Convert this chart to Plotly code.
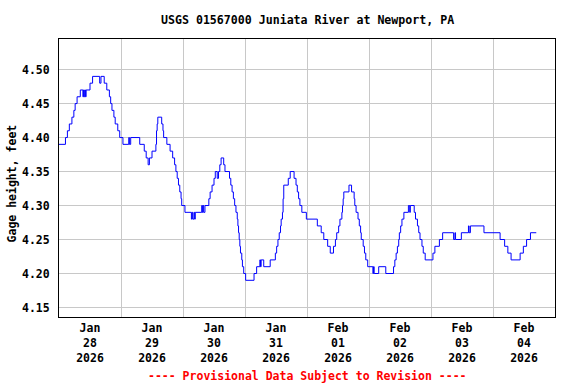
import pandas as pd
import plotly.graph_objects as go

# Hours since 2026-01-28 00:00 at which the gage reading changed
hours = [
    0.0, 2.5, 3.25, 4.0, 5.0, 5.75, 6.25, 7.0, 8.25,
    9.25, 9.5, 9.75, 10.0, 10.25, 10.5,
    12.0, 13.0, 15.75, 16.25, 17.5, 18.5, 19.5, 20.0, 20.5, 21.25, 21.75, 22.75, 23.5, 24.75,
    27.0, 27.25, 27.75, 31.25, 33.0, 33.75, 34.5, 35.0, 36.0,
    37.5, 37.75, 38.0, 38.25, 39.75, 40.25, 40.5, 41.75, 43.0, 44.0, 44.75, 45.25, 45.75,
    46.25, 46.75, 47.25, 47.5, 48.75,
    51.25, 51.5, 51.75, 52.25, 52.5, 52.75,
    55.25, 55.5, 55.75, 56.0, 56.5,
    58.0, 58.5, 59.25, 60.0, 60.5, 61.25, 61.75, 62.25, 62.75, 63.75, 64.25, 66.0, 66.5,
    67.0, 67.5, 68.0, 68.5, 69.0, 69.25, 69.5, 69.75, 70.0, 70.25, 70.75, 71.0, 71.5, 72.25,
    75.5, 76.5, 77.75, 78.0, 78.25, 79.25, 81.75, 83.75, 84.25, 84.75, 85.25, 85.75, 86.0,
    86.5, 86.75, 87.0,
    88.75, 89.5, 91.0, 91.75, 92.25, 92.75, 93.25, 94.0, 95.75,
    100.0, 101.5, 102.5, 104.0, 105.0, 106.25, 107.0, 107.5, 108.25, 108.75, 109.5, 109.75,
    110.0, 110.25, 112.25, 113.25, 114.25, 114.5, 115.0, 115.75, 116.25, 116.75, 117.0,
    117.75, 118.25, 118.75, 119.5,
    121.5, 121.75, 122.0, 123.75, 126.5, 129.5, 130.0, 130.5, 131.0, 131.5, 131.75, 132.25,
    132.75, 133.5, 135.25, 135.75, 136.0, 137.5, 138.0, 138.75, 139.25, 139.75, 140.5, 141.0,
    141.75,
    144.75, 145.5, 147.25, 148.5, 152.75, 153.25, 153.5, 155.75, 158.5, 158.75, 159.25,
    164.5, 170.75, 172.5, 173.75, 175.0, 178.5, 179.75, 181.0, 182.5, 184.75,
]

# Gage height (feet) from each of those times on
gage_ft = [
    4.39, 4.40, 4.41, 4.42, 4.43, 4.44, 4.45, 4.46, 4.47,
    4.46, 4.47, 4.46, 4.47, 4.46, 4.47,
    4.48, 4.49, 4.48, 4.49, 4.48, 4.47, 4.46, 4.45, 4.44, 4.43, 4.42, 4.41, 4.40, 4.39,
    4.40, 4.39, 4.40, 4.39, 4.38, 4.37, 4.36, 4.37, 4.38,
    4.39, 4.41, 4.42, 4.43, 4.42, 4.41, 4.40, 4.39, 4.38, 4.37, 4.36, 4.35, 4.34,
    4.33, 4.32, 4.31, 4.30, 4.29,
    4.28, 4.29, 4.28, 4.29, 4.28, 4.29,
    4.30, 4.29, 4.30, 4.29, 4.30,
    4.31, 4.32, 4.33, 4.34, 4.35, 4.34, 4.35, 4.36, 4.37, 4.36, 4.35, 4.34, 4.33,
    4.32, 4.31, 4.30, 4.29, 4.28, 4.27, 4.26, 4.25, 4.24, 4.23, 4.22, 4.21, 4.20, 4.19,
    4.20, 4.21, 4.22, 4.21, 4.22, 4.21, 4.22, 4.23, 4.24, 4.25, 4.26, 4.27, 4.28,
    4.29, 4.31, 4.33,
    4.34, 4.35, 4.34, 4.33, 4.32, 4.31, 4.30, 4.29, 4.28,
    4.27, 4.26, 4.25, 4.24, 4.23, 4.24, 4.25, 4.26, 4.27, 4.28, 4.29, 4.30,
    4.31, 4.32, 4.33, 4.32, 4.31, 4.30, 4.29, 4.28, 4.27, 4.26, 4.25,
    4.24, 4.23, 4.22, 4.21,
    4.20, 4.21, 4.20, 4.21, 4.20, 4.21, 4.22, 4.23, 4.24, 4.25, 4.26, 4.27,
    4.28, 4.29, 4.30, 4.29, 4.30, 4.29, 4.28, 4.27, 4.26, 4.25, 4.24, 4.23,
    4.22,
    4.23, 4.24, 4.25, 4.26, 4.25, 4.26, 4.25, 4.26, 4.27, 4.26, 4.27,
    4.26, 4.25, 4.24, 4.23, 4.22, 4.23, 4.24, 4.25, 4.26, 4.26,
]
assert len(hours) == len(gage_ft)

start = pd.Timestamp("2026-01-28 00:00")
times = start + pd.to_timedelta(hours, unit="h")

day_dates = ["2026-01-28", "2026-01-29", "2026-01-30", "2026-01-31",
             "2026-02-01", "2026-02-02", "2026-02-03", "2026-02-04"]
day_labels = ["Jan<br>28<br>2026", "Jan<br>29<br>2026", "Jan<br>30<br>2026", "Jan<br>31<br>2026",
              "Feb<br>01<br>2026", "Feb<br>02<br>2026", "Feb<br>03<br>2026", "Feb<br>04<br>2026"]
y_ticks = [4.15, 4.20, 4.25, 4.30, 4.35, 4.40, 4.45, 4.50]
y_ticklabels = ["4.15", "4.20", "4.25", "4.30", "4.35", "4.40", "4.45", "4.50"]

midnights = [pd.Timestamp(d) for d in day_dates] + [pd.Timestamp("2026-02-05")]
noons = [pd.Timestamp(d) + pd.Timedelta(hours=12) for d in day_dates]

FONT = "DejaVu Sans Mono"
GRID = "#c8c8c8"

fig = go.Figure()
fig.add_trace(go.Scatter(
    x=times, y=gage_ft, mode="lines", line=dict(color="#0000ff", width=1, shape="hv"),
    showlegend=False, hoverinfo="x+y",
))

fig.update_layout(
    width=576, height=384,
    margin=dict(l=59, r=21, t=39, b=67, pad=0),
    paper_bgcolor="white", plot_bgcolor="white",
    font=dict(family=FONT, size=11.5, color="black"),
    xaxis=dict(
        type="date", automargin=False,
        range=[midnights[0], midnights[-1]],
        tickmode="array", tickvals=noons, ticktext=day_labels,
        showgrid=False, ticks="", zeroline=False,
        showline=True, mirror=True, linecolor="black", linewidth=1,
        tickfont=dict(family=FONT, size=11.5, color="black", weight="bold"),
        minor=dict(tickmode="array", tickvals=midnights, showgrid=True,
                   gridcolor=GRID, gridwidth=1, ticks=""),
    ),
    yaxis=dict(
        automargin=False,
        range=[4.136, 4.545],
        tickmode="array", tickvals=y_ticks, ticktext=y_ticklabels,
        showgrid=True, gridcolor=GRID, gridwidth=1, ticks="", zeroline=False,
        showline=True, mirror=True, linecolor="black", linewidth=1,
        ticklabelstandoff=6,
        tickfont=dict(family=FONT, size=11.5, color="black", weight="bold"),
    ),
    annotations=[
        dict(text="<b>USGS 01567000 Juniata River at Newport, PA</b>",
             xref="paper", yref="paper", x=0.5, y=1.068, xanchor="center", yanchor="middle",
             showarrow=False, font=dict(family=FONT, size=11.6, color="black")),
        dict(text="<b>Gage height, feet</b>",
             xref="paper", yref="paper", x=-0.095, y=0.48, xanchor="center", yanchor="middle",
             textangle=-90, showarrow=False, font=dict(family=FONT, size=11.5, color="black")),
        dict(text="<b>---- Provisional Data Subject to Revision ----</b>",
             xref="paper", yref="paper", x=0.5, y=-0.211, xanchor="center", yanchor="middle",
             showarrow=False, font=dict(family=FONT, size=11.5, color="red")),
    ],
)

fig.write_html("out.html", config={"displayModeBar": False},
               post_script="document.body.style.margin='0px';")
